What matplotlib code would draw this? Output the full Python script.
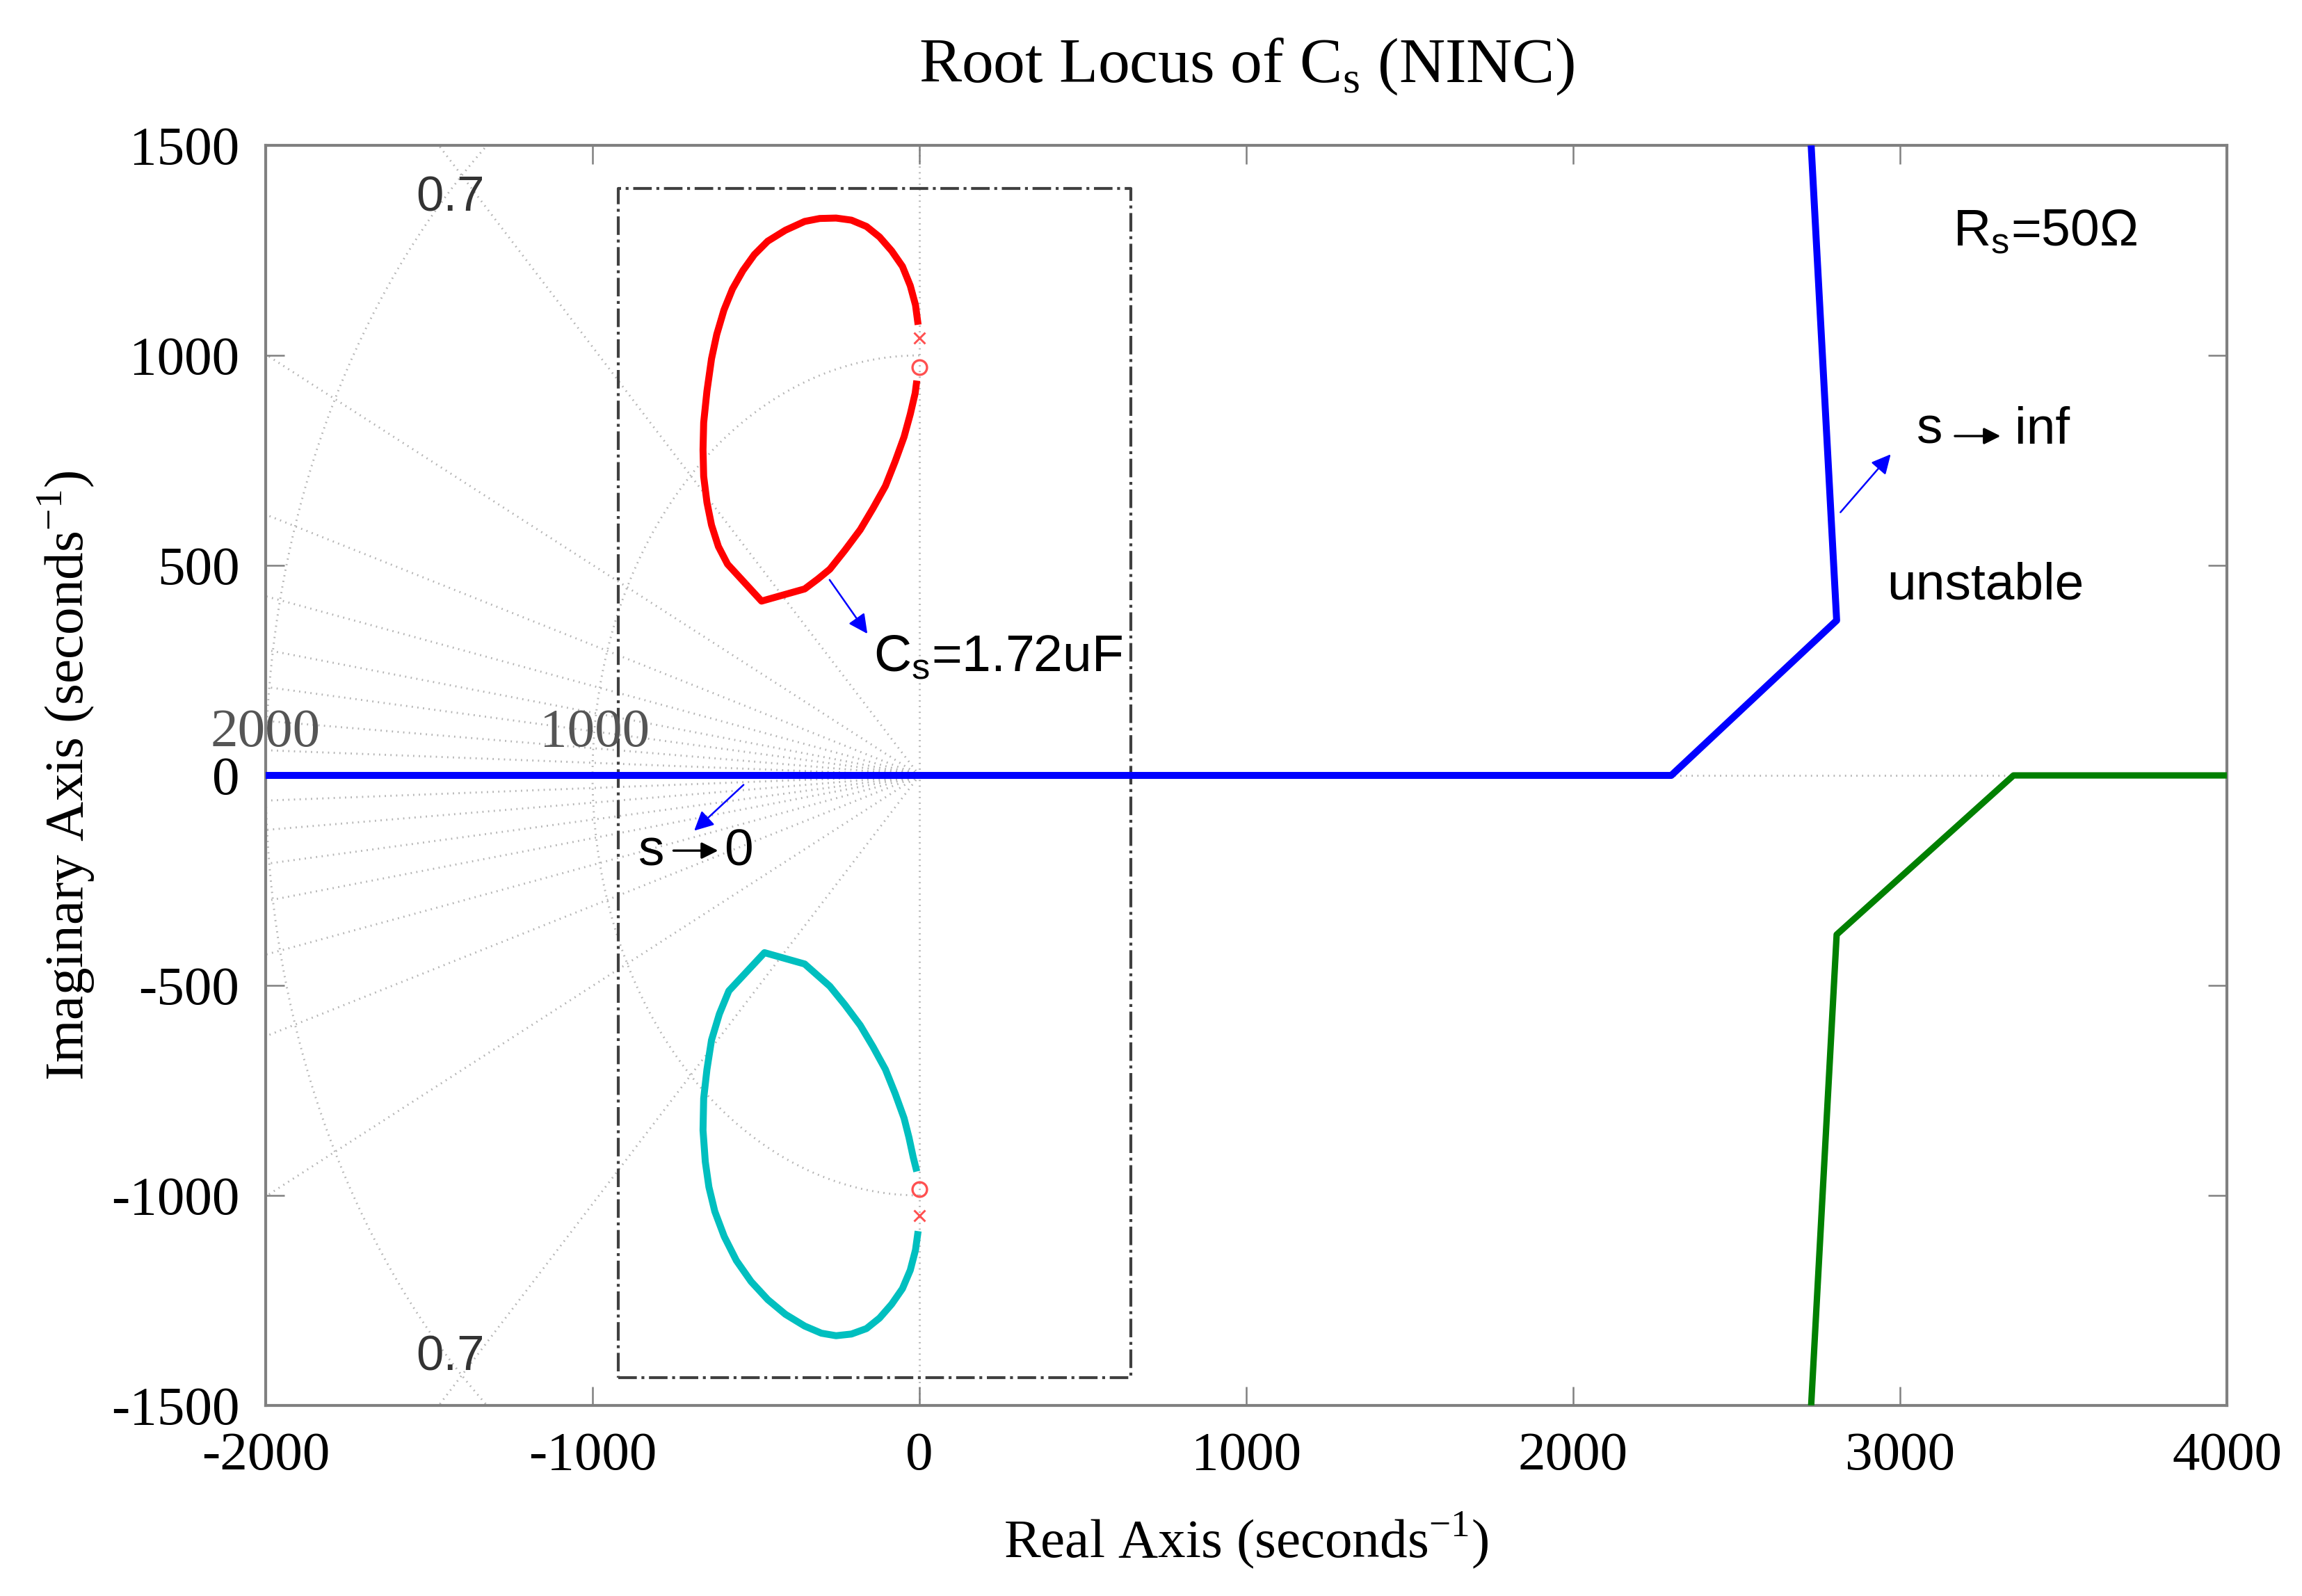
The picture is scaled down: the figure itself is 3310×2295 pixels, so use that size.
import matplotlib
matplotlib.use("Agg")
import matplotlib.pyplot as plt
import numpy as np

plt.rcParams["axes.unicode_minus"] = False

# root locus branches
blue_x = [-2000, 2300, 2806, 2728]
blue_y = [0, 0, 369, 1500]
green_x = [4000, 3347, 2806, 2728]
green_y = [0, 0, -379, -1500]

red_x = [-4, -12, -28, -52, -85, -122, -162, -208, -255, -305, -351, -410, -464, -505,
         -540, -572, -598, -620, -636, -650, -660, -662, -660, -650, -636, -615, -587,
         -483, -351, -310, -274, -228, -181, -142, -104, -74, -47, -28, -13, -8]
red_y = [1073, 1120, 1166, 1212, 1249, 1282, 1307, 1322, 1327, 1326, 1319, 1298, 1272, 1240,
         1202, 1158, 1108, 1050, 992, 915, 840, 775, 712, 650, 596, 545, 503,
         415, 444, 468, 491, 536, 585, 636, 689, 748, 806, 860, 910, 940]

cyan_x = [-8, -19, -32, -47, -74, -104, -142, -181, -228, -274, -351, -474, -583, -612,
          -636, -650, -660, -662, -655, -644, -626, -597, -560, -515, -464, -410, -351,
          -300, -255, -208, -162, -122, -85, -52, -28, -12, -4]
cyan_y = [-943, -909, -862, -816, -758, -700, -646, -595, -546, -502, -449, -422, -513, -568,
          -630, -700, -769, -845, -920, -980, -1038, -1098, -1155, -1205, -1248, -1283, -1311,
          -1328, -1334, -1330, -1317, -1292, -1259, -1222, -1178, -1130, -1085]

pole_x = [0, 0]
pole_y = [1042, -1048]
zero_x = [0, 0]
zero_y = [972, -985]

box_x = [-921, 647]
box_y = [-1434, 1397]

zeta = [0.7, 0.894, 0.955, 0.978, 0.989, 0.9945, 0.9979, 0.99955]
wn = [1000, 2000]

xticks = [-2000, -1000, 0, 1000, 2000, 3000, 4000]
yticks = [-1500, -1000, -500, 0, 500, 1000, 1500]

serif = "Liberation Serif"
sans = "Liberation Sans"
gridc = "#b4b4b4"
dots = (0, (0.6, 2.2))

fig = plt.figure(figsize=(3310 / 300, 2295 / 300), dpi=300)
ax = fig.add_axes([0.1154, 0.1194, 0.8520, 0.7895])

# s-plane grid (damping lines and natural frequency arcs)
for z in zeta:
    th = np.arccos(z)
    for sgn in (1, -1):
        ax.plot([0, -6000 * np.cos(th)], [0, sgn * 6000 * np.sin(th)],
                ls=dots, color=gridc, lw=0.7, zorder=1)
t = np.linspace(np.pi / 2, 3 * np.pi / 2, 300)
for w in wn:
    ax.plot(w * np.cos(t), w * np.sin(t), ls=dots, color=gridc, lw=0.7, zorder=1)
ax.axhline(0, ls=dots, color=gridc, lw=0.7, zorder=1)
ax.axvline(0, ls=dots, color=gridc, lw=0.7, zorder=1)

# grid labels
ax.text(-2000, 42, "2000", family=serif, fontsize=19, color="#555555", ha="center", va="bottom")
ax.text(-994, 42, "1000", family=serif, fontsize=19, color="#555555", ha="center", va="bottom")
ax.text(-1434, 1374, "0.7", family=sans, fontsize=17, color="#333333", ha="center", va="center")
ax.text(-1434, -1387, "0.7", family=sans, fontsize=17, color="#333333", ha="center", va="center")

# dash-dot box
ax.plot([box_x[0], box_x[1], box_x[1], box_x[0], box_x[0]],
        [box_y[0], box_y[0], box_y[1], box_y[1], box_y[0]],
        ls="-.", color="#404040", lw=1.0, zorder=2)

# branches
ax.plot(blue_x, blue_y, color="#0000ff", lw=2.4, zorder=4, solid_capstyle="butt")
ax.plot(green_x, green_y, color="#008000", lw=2.2, zorder=4, solid_capstyle="butt")
ax.plot(red_x, red_y, color="#ff0000", lw=2.4, zorder=4, solid_capstyle="butt")
ax.plot(cyan_x, cyan_y, color="#00bfbf", lw=2.4, zorder=4, solid_capstyle="butt")
ax.plot(pole_x, pole_y, "x", color="#ff5050", ms=4, mew=0.7, zorder=5)
ax.plot(zero_x, zero_y, "o", mfc="none", mec="#ff5050", ms=5, mew=0.8, zorder=5)

# annotations
blue_arrow = dict(arrowstyle="-|>", color="#0000ff", lw=0.6, mutation_scale=14)
black_arrow = dict(arrowstyle="-|>", color="black", lw=0.8, mutation_scale=12)

ax.annotate("", xy=(-149, 326), xytext=(-285, 477), arrowprops=blue_arrow, zorder=6)
ax.text(-140, 248, r"$\mathregular{C_s}$=1.72uF", family=sans, fontsize=18,
        ha="left", va="baseline", zorder=6)

ax.annotate("", xy=(-702, -141), xytext=(-525, -13), arrowprops=blue_arrow, zorder=6)
ax.text(-860, -215, "s", family=sans, fontsize=18, ha="left", va="baseline")
ax.annotate("", xy=(-598, -179), xytext=(-770, -179), arrowprops=black_arrow)
ax.text(-598, -215, "0", family=sans, fontsize=18, ha="left", va="baseline")

ax.annotate("", xy=(2983, 775), xytext=(2806, 616), arrowprops=blue_arrow, zorder=6)
ax.text(3051, 790, "s", family=sans, fontsize=18, ha="left", va="baseline")
ax.annotate("", xy=(3325, 808), xytext=(3150, 808), arrowprops=black_arrow)
ax.text(3351, 790, "inf", family=sans, fontsize=18, ha="left", va="baseline")

ax.text(2960, 420, "unstable", family=sans, fontsize=18, ha="left", va="baseline")
ax.text(3162, 1262, r"$\mathregular{R_s}$=50Ω", family=sans, fontsize=18,
        ha="left", va="baseline")

# axes styling
ax.set_xlim(-2000, 4000)
ax.set_ylim(-1500, 1500)
ax.set_xticks(xticks)
ax.set_yticks(yticks)
ax.tick_params(direction="in", length=6.5, width=0.6, color="#808080",
               top=True, right=True, labelsize=19, pad=9)
for lab in ax.get_xticklabels() + ax.get_yticklabels():
    lab.set_family(serif)
for sp in ax.spines.values():
    sp.set_color("#808080")
    sp.set_linewidth(1.0)

ax.set_xlabel(r"Real Axis (seconds$^{\mathregular{-1}}$)", family=serif, fontsize=19, labelpad=10)
ax.set_ylabel(r"Imaginary Axis (seconds$^{\mathregular{-1}}$)", family=serif, fontsize=19, labelpad=5)
ax.set_title(r"Root Locus of C$_\mathregular{s}$ (NINC)", family=serif, fontsize=22, pad=22)

fig.savefig("out.png", dpi=300)
